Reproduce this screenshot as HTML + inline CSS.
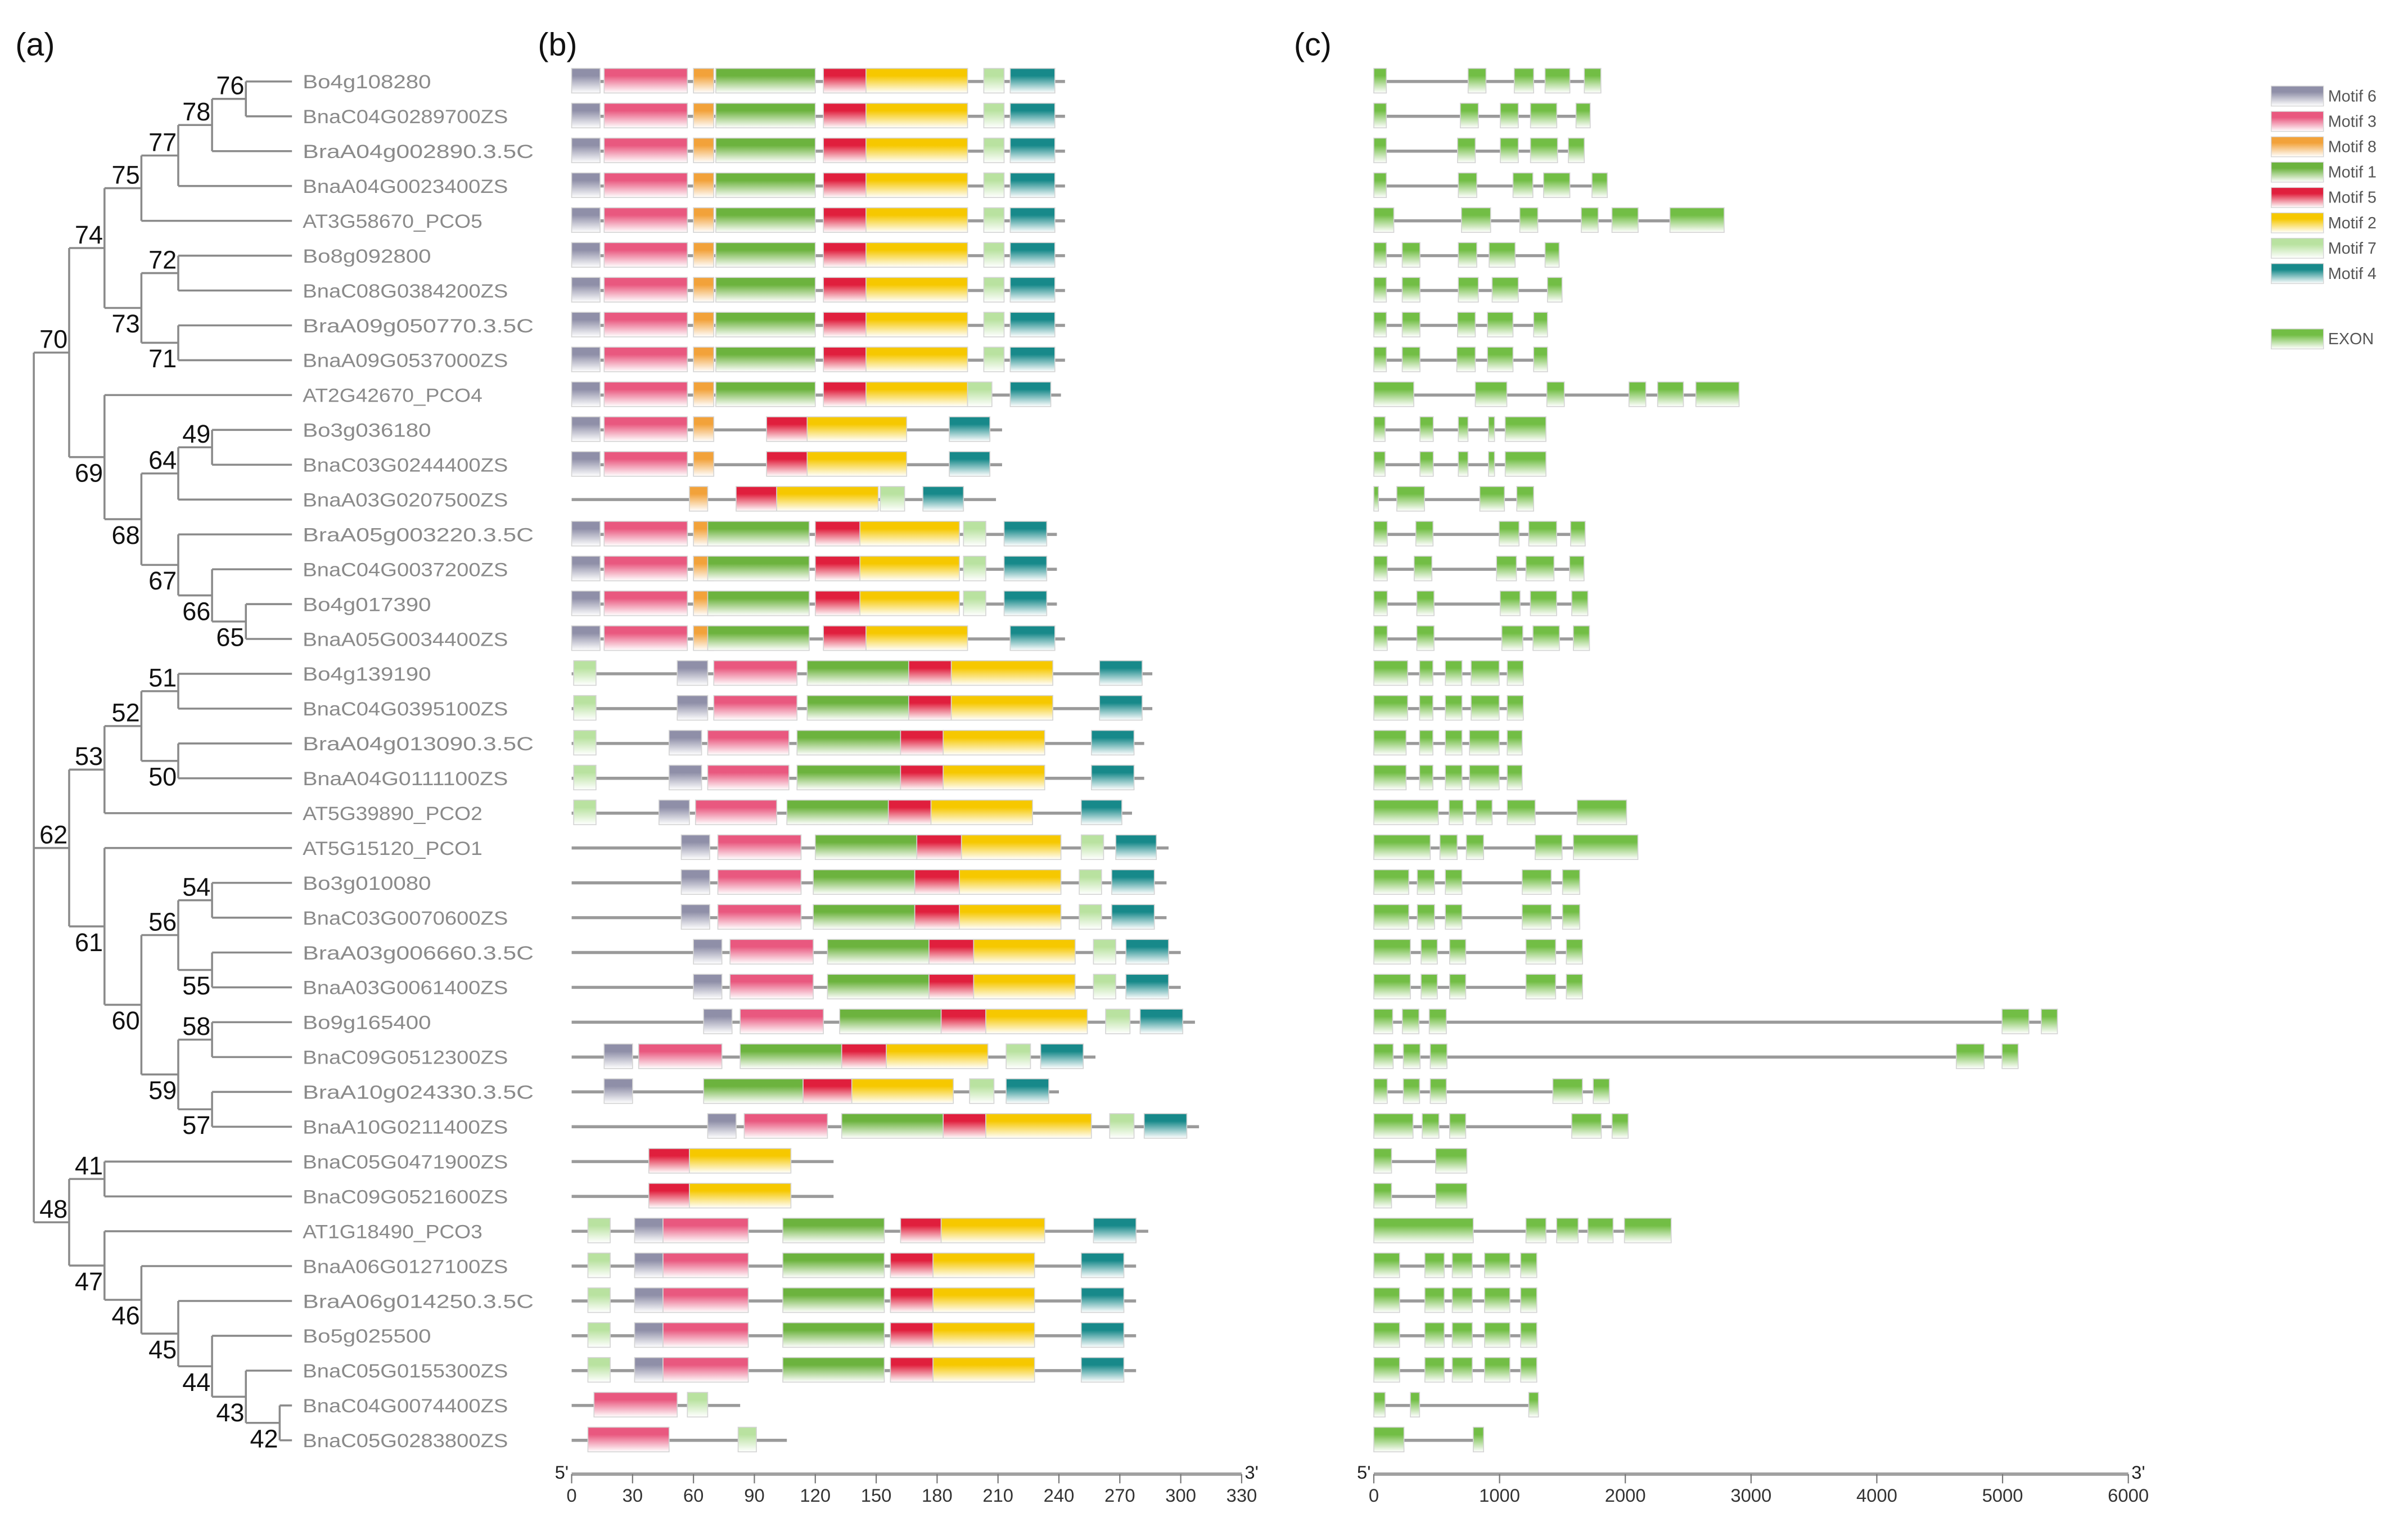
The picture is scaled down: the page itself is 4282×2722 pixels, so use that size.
<!DOCTYPE html>
<html><head><meta charset="utf-8">
<style>
html,body{margin:0;padding:0;background:#fff;}
svg{display:block;font-family:"Liberation Sans",Arial,sans-serif;}
</style></head>
<body>
<svg id="fig" xmlns="http://www.w3.org/2000/svg" width="4282" height="2722" viewBox="0 0 1567 996" preserveAspectRatio="none">
<defs id="defs"></defs>
<rect x="0" y="0" width="1567" height="996" fill="#fff"/>
<text x="10" y="36" font-size="21" fill="#111">(a)</text>
<text x="350" y="36" font-size="21" fill="#111">(b)</text>
<text x="842" y="36" font-size="21" fill="#111">(c)</text>
<g id="tree"></g>
<g id="labels"></g>
<g id="motifs"></g>
<g id="exons"></g>
<g id="axes"></g>
<g id="legend"></g>
</svg>
<script>
const genes = ["Bo4g108280","BnaC04G0289700ZS","BraA04g002890.3.5C","BnaA04G0023400ZS","AT3G58670_PCO5","Bo8g092800","BnaC08G0384200ZS","BraA09g050770.3.5C","BnaA09G0537000ZS","AT2G42670_PCO4","Bo3g036180","BnaC03G0244400ZS","BnaA03G0207500ZS","BraA05g003220.3.5C","BnaC04G0037200ZS","Bo4g017390","BnaA05G0034400ZS","Bo4g139190","BnaC04G0395100ZS","BraA04g013090.3.5C","BnaA04G0111100ZS","AT5G39890_PCO2","AT5G15120_PCO1","Bo3g010080","BnaC03G0070600ZS","BraA03g006660.3.5C","BnaA03G0061400ZS","Bo9g165400","BnaC09G0512300ZS","BraA10g024330.3.5C","BnaA10G0211400ZS","BnaC05G0471900ZS","BnaC09G0521600ZS","AT1G18490_PCO3","BnaA06G0127100ZS","BraA06g014250.3.5C","Bo5g025500","BnaC05G0155300ZS","BnaC04G0074400ZS","BnaC05G0283800ZS"];

const motifNames = ["Motif 6","Motif 3","Motif 8","Motif 1","Motif 5","Motif 2","Motif 7","Motif 4"];
const motifColors = {6:"#8f8fa8",3:"#e9587f",8:"#f2a23a",1:"#6cb33e",5:"#e01f3d",2:"#f6c800",7:"#b9e2a0",4:"#17898a"};

const proteinLen = [243,243,243,243,243,243,243,243,243,241,212,212,209,239,239,239,243,286,286,282,282,276,294,293,293,300,300,307,258,240,309,129,129,284,278,278,278,278,83,106];

const stdA = [[6,0,14],[3,16,57],[8,60,70],[1,71,120],[5,124,145],[2,145,195],[7,203,213],[4,216,238]];
const grpB = [[6,0,14],[3,16,57],[8,60,70],[1,67,117],[5,120,142],[2,142,191],[7,193,204],[4,213,234]];
const grpE = [[7,8,19],[6,31,45],[3,45,87],[1,104,154],[5,157,178],[2,178,228],[4,251,272]];
const motifData = [
 stdA,stdA,stdA,stdA,stdA,stdA,stdA,stdA,stdA,
 [[6,0,14],[3,16,57],[8,60,70],[1,71,120],[5,124,145],[2,145,195],[7,195,207],[4,216,236]],
 [[6,0,14],[3,16,57],[8,60,70],[5,96,116],[2,116,165],[4,186,206]],
 [[6,0,14],[3,16,57],[8,60,70],[5,96,116],[2,116,165],[4,186,206]],
 [[8,58,67],[5,81,101],[2,101,151],[7,152,164],[4,173,193]],
 grpB,grpB,grpB,
 [[6,0,14],[3,16,57],[8,60,70],[1,67,117],[5,124,145],[2,145,195],[4,216,238]],
 [[7,1,12],[6,52,67],[3,70,111],[1,116,166],[5,166,187],[2,187,237],[4,260,281]],
 [[7,1,12],[6,52,67],[3,70,111],[1,116,166],[5,166,187],[2,187,237],[4,260,281]],
 [[7,1,12],[6,48,64],[3,67,107],[1,111,162],[5,162,183],[2,183,233],[4,256,277]],
 [[7,1,12],[6,48,64],[3,67,107],[1,111,162],[5,162,183],[2,183,233],[4,256,277]],
 [[7,1,12],[6,43,58],[3,61,101],[1,106,156],[5,156,177],[2,177,227],[4,251,271]],
 [[6,54,68],[3,72,113],[1,120,170],[5,170,192],[2,192,241],[7,251,262],[4,268,288]],
 [[6,54,68],[3,72,113],[1,119,169],[5,169,191],[2,191,241],[7,250,261],[4,266,287]],
 [[6,54,68],[3,72,113],[1,119,169],[5,169,191],[2,191,241],[7,250,261],[4,266,287]],
 [[6,60,74],[3,78,119],[1,126,176],[5,176,198],[2,198,248],[7,257,268],[4,273,294]],
 [[6,60,74],[3,78,119],[1,126,176],[5,176,198],[2,198,248],[7,257,268],[4,273,294]],
 [[6,65,79],[3,83,124],[1,132,182],[5,182,204],[2,204,254],[7,263,275],[4,280,301]],
 [[6,16,30],[3,33,74],[1,83,133],[5,133,155],[2,155,205],[7,214,226],[4,231,252]],
 [[6,16,30],[1,65,114],[5,114,138],[2,138,188],[7,196,208],[4,214,235]],
 [[6,67,81],[3,85,126],[1,133,183],[5,183,204],[2,204,256],[7,265,277],[4,282,303]],
 [[5,38,58],[2,58,108]],
 [[5,38,58],[2,58,108]],
 [[7,8,19],[6,31,45],[3,45,87],[1,104,154],[5,162,182],[2,182,233],[4,257,278]],
 grpE,grpE,grpE,grpE,
 [[3,11,52],[7,57,67]],
 [[3,8,48],[7,82,91]]
];

const geneLen = [1806,1721,1674,1857,2786,1474,1497,1381,1381,2905,1369,1369,1271,1681,1672,1702,1715,1189,1189,1180,1180,2010,2100,1638,1638,1660,1660,5436,5124,1873,2023,740,740,2365,1296,1296,1296,1296,1309,873];
const exonData = [
 [[0,100],[750,892],[1117,1271],[1362,1559],[1674,1806]],
 [[0,100],[688,831],[1006,1149],[1246,1455],[1608,1721]],
 [[0,100],[666,807],[1006,1149],[1246,1461],[1547,1674]],
 [[0,100],[672,819],[1107,1265],[1350,1559],[1735,1857]],
 [[0,159],[697,929],[1161,1304],[1650,1784],[1894,2102],[2355,2786]],
 [[0,100],[226,367],[672,819],[917,1124],[1362,1474]],
 [[0,100],[226,367],[672,831],[941,1149],[1381,1497]],
 [[0,100],[226,367],[666,807],[904,1107],[1271,1381]],
 [[0,100],[226,367],[660,807],[904,1107],[1271,1381]],
 [[0,318],[807,1058],[1376,1515],[2029,2163],[2257,2462],[2561,2905]],
 [[0,90],[367,473],[672,749],[912,960],[1045,1369]],
 [[0,90],[367,473],[672,749],[912,960],[1045,1369]],
 [[0,37],[183,403],[843,1039],[1137,1271]],
 [[0,107],[334,471],[997,1155],[1232,1454],[1565,1681]],
 [[0,107],[321,462],[976,1134],[1210,1433],[1557,1672]],
 [[0,107],[342,479],[1005,1163],[1245,1454],[1574,1702]],
 [[0,107],[342,479],[1018,1185],[1266,1476],[1587,1715]],
 [[0,269],[364,470],[569,701],[774,997],[1061,1189]],
 [[0,269],[364,470],[569,701],[774,997],[1061,1189]],
 [[0,257],[364,470],[569,701],[761,997],[1061,1180]],
 [[0,257],[364,470],[569,701],[761,997],[1061,1180]],
 [[0,513],[599,710],[813,941],[1061,1283],[1617,2010]],
 [[0,449],[526,663],[736,873],[1283,1497],[1587,2100]],
 [[0,278],[346,483],[569,701],[1180,1411],[1501,1638]],
 [[0,278],[346,483],[569,701],[1180,1411],[1501,1638]],
 [[0,291],[376,505],[603,731],[1210,1446],[1531,1660]],
 [[0,291],[376,505],[603,731],[1210,1446],[1531,1660]],
 [[0,150],[227,359],[441,577],[4996,5209],[5308,5436]],
 [[0,154],[235,368],[449,582],[4632,4854],[4996,5124]],
 [[0,107],[235,364],[449,577],[1424,1659],[1745,1873]],
 [[0,312],[385,518],[603,731],[1574,1809],[1895,2023]],
 [[0,141],[492,740]],
 [[0,141],[492,740]],
 [[0,791],[1210,1369],[1454,1625],[1702,1903],[1993,2365]],
 [[0,205],[406,560],[624,783],[881,1082],[1168,1296]],
 [[0,205],[406,560],[624,783],[881,1082],[1168,1296]],
 [[0,205],[406,560],[624,783],[881,1082],[1168,1296]],
 [[0,205],[406,560],[624,783],[881,1082],[1168,1296]],
 [[0,90],[291,364],[1232,1309]],
 [[0,240],[791,873]]
];

const motifTicks = [0,30,60,90,120,150,180,210,240,270,300,330];
const exonTicks = [0,1000,2000,3000,4000,5000,6000];

// tree: [label, level, labelPos(a=above,b=below), childA, childB]  (numbers = leaf index)
const treeNodes = {
 n76:["76",6,"a",0,1], n78:["78",5,"a","n76",2], n77:["77",4,"a","n78",3], n75:["75",3,"a","n77",4],
 n72:["72",4,"a",5,6], n71:["71",4,"b",7,8], n73:["73",3,"b","n72","n71"], n74:["74",2,"a","n75","n73"],
 n49:["49",5,"a",10,11], n64:["64",4,"a","n49",12], n65:["65",6,"b",15,16], n66:["66",5,"b",14,"n65"],
 n67:["67",4,"b",13,"n66"], n68:["68",3,"b","n64","n67"], n69:["69",2,"b",9,"n68"], n70:["70",1,"a","n74","n69"],
 n51:["51",4,"a",17,18], n50:["50",4,"b",19,20], n52:["52",3,"a","n51","n50"], n53:["53",2,"a","n52",21],
 n54:["54",5,"a",23,24], n55:["55",5,"b",25,26], n56:["56",4,"a","n54","n55"],
 n58:["58",5,"a",27,28], n57:["57",5,"b",29,30], n59:["59",4,"b","n58","n57"], n60:["60",3,"b","n56","n59"],
 n61:["61",2,"b",22,"n60"], n62:["62",1,"a","n53","n61"],
 n41:["41",2,"a",31,32], n42:["42",7,"b",38,39], n43:["43",6,"b",37,"n42"], n44:["44",5,"b",36,"n43"],
 n45:["45",4,"b",35,"n44"], n46:["46",3,"b",34,"n45"], n47:["47",2,"b",33,"n46"], n48:["48",1,"a","n41","n47"]
};
const rootChildren = ["n70","n62","n48"];

const NS="http://www.w3.org/2000/svg";
function mk(tag, attrs, parent){const e=document.createElementNS(NS,tag);for(const k in attrs)e.setAttribute(k,attrs[k]);if(parent)parent.appendChild(e);return e;}
const rowY = i => 53 + i*(937-53)/39;
const levelX = [22,45,68,92,116,138,160,182];
const leafX = 190;
const mx = v => 372 + v*(808-372)/330;
const ex = v => 894 + v*(1385-894)/6000;

// gradients
const defs=document.getElementById('defs');
function grad(id,color){
 const g=mk('linearGradient',{id:id,x1:0,y1:0,x2:0,y2:1},defs);
 mk('stop',{offset:'0',"stop-color":color},g);
 mk('stop',{offset:'0.3',"stop-color":color},g);
 mk('stop',{offset:'1',"stop-color":"#ffffff"},g);
}
for(const k in motifColors) grad('gm'+k,motifColors[k]);
grad('gex','#72be45');

// tree
const tree=document.getElementById('tree');
const nodeY={};
function yOf(c){ if(typeof c==='number') return rowY(c); return nodeYcalc(c);}
function nodeYcalc(n){ if(nodeY[n]!==undefined) return nodeY[n]; const d=treeNodes[n]; const y=(yOf(d[3])+yOf(d[4]))/2; nodeY[n]=y; return y;}
function xOf(c){ return typeof c==='number'? leafX : levelX[treeNodes[c][1]]; }
const treeStyle={stroke:"#8a8a8a","stroke-width":1.3,fill:"none"};
for(const n in treeNodes){
 const d=treeNodes[n]; const x=levelX[d[1]]; const y=nodeYcalc(n);
 const ya=yOf(d[3]), yb=yOf(d[4]);
 const v=mk('line',Object.assign({x1:x,y1:ya,x2:x,y2:yb},treeStyle),tree);
 
 
 [d[3],d[4]].forEach(c=>{
  const h=mk('line',Object.assign({x1:x,y1:yOf(c),x2:xOf(c),y2:yOf(c)},treeStyle),tree);
  
  
 });
 const t=mk('text',{x:x-1,y:d[2]==='a'?y-3:y+16,"font-size":16.5,fill:"#111","text-anchor":"end"},tree);
 t.textContent=d[0];
 
 
}
{
 const ys=rootChildren.map(nodeYcalc);
 const r=mk('line',Object.assign({x1:levelX[0],y1:Math.min(...ys),x2:levelX[0],y2:Math.max(...ys)},treeStyle),tree);
 
 
 rootChildren.forEach(c=>{
  const h=mk('line',Object.assign({x1:levelX[0],y1:nodeYcalc(c),x2:xOf(c),y2:nodeYcalc(c)},treeStyle),tree);
  
  
 });
}

// labels
const labels=document.getElementById('labels');
genes.forEach((g,i)=>{
 const t=mk('text',{x:197,y:rowY(i)+4.5,"font-size":12.5,fill:"#8a8a8a",textLength:(g.length*8.35).toFixed(1),lengthAdjust:"spacingAndGlyphs"},labels);
 t.textContent=g;
 
 
});

// motifs
const mg=document.getElementById('motifs');
motifData.forEach((ms,i)=>{
 const y=rowY(i);
 const l=mk('line',{x1:mx(0),y1:y,x2:mx(proteinLen[i]),y2:y,stroke:"#9a9a9a","stroke-width":2},mg);
 
 
 ms.forEach(m=>{
  const r=mk('rect',{x:mx(m[1]),y:y-8.5,width:mx(m[2])-mx(m[1]),height:16,fill:'url(#gm'+m[0]+')',stroke:"#d4d4d4","stroke-width":0.6},mg);
  
  
 });
});

// exons
const eg=document.getElementById('exons');
exonData.forEach((es,i)=>{
 const y=rowY(i);
 const l=mk('line',{x1:ex(0),y1:y,x2:ex(geneLen[i]),y2:y,stroke:"#9a9a9a","stroke-width":2},eg);
 
 
 es.forEach(e=>{
  const r=mk('rect',{x:ex(e[0]),y:y-8.5,width:Math.max(1.5,ex(e[1])-ex(e[0])),height:16,fill:'url(#gex)',stroke:"#d4d4d4","stroke-width":0.6},eg);
  
  
 });
});

// axes
const ax=document.getElementById('axes');
function axis(x0,x1,ticks,scale,name){
 const a=mk('line',{x1:x0,y1:959,x2:x1,y2:959,stroke:"#a0a0a0","stroke-width":2.2},ax);
 
 
 ticks.forEach(v=>{
  const t=mk('line',{x1:scale(v),y1:959,x2:scale(v),y2:965,stroke:"#777","stroke-width":0.8},ax);
  
  
  const lb=mk('text',{x:scale(v),y:977,"font-size":12,fill:"#333","text-anchor":"middle"},ax);
  lb.textContent=String(v);
  
  
 });
 const s=mk('text',{x:x0-2,y:962,"font-size":12,fill:"#222","text-anchor":"end"},ax); s.textContent="5'";
 
 
 const e=mk('text',{x:x1+2,y:962,"font-size":12,fill:"#222"},ax); e.textContent="3'";
 
 
}
axis(mx(0),mx(330),motifTicks,mx,'motif-axis');
axis(ex(0),ex(6000),exonTicks,ex,'exon-axis');

// legend
const lg=document.getElementById('legend');
const legendIds=[6,3,8,1,5,2,7,4];
legendIds.forEach((id,k)=>{
 const y=56+k*16.5;
 const r=mk('rect',{x:1478,y:y,width:34,height:13,fill:'url(#gm'+id+')',stroke:"#d4d4d4","stroke-width":0.5},lg);
 
 
 const t=mk('text',{x:1515,y:y+10,"font-size":10.5,fill:"#555"},lg);
 t.textContent=motifNames[k];
 
 
});
{
 const r=mk('rect',{x:1478,y:214,width:34,height:13,fill:'url(#gex)',stroke:"#d4d4d4","stroke-width":0.5},lg);
 
 
 const t=mk('text',{x:1515,y:224,"font-size":10.5,fill:"#555"},lg);
 t.textContent="EXON";
 
 
}
</script>
</body></html>
